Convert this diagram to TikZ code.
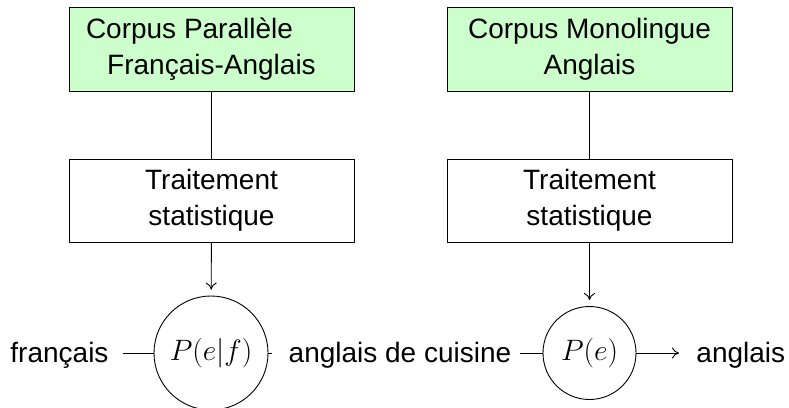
\RequirePackage{fix-cm}
\documentclass[tikz,border=0pt]{standalone}
\usepackage[no-math]{fontspec}
\setmainfont{Liberation Sans}
\usetikzlibrary{arrows.meta}
\begin{document}
\begin{tikzpicture}[x=1pt,y=-1pt,line width=0.9pt,
  every node/.style={font=\fontsize{28}{36}\selectfont},
  corpus/.style={draw, fill=green!20, minimum width=285pt, minimum height=84pt, align=center, inner sep=0pt},
  proc/.style={draw, fill=white, minimum width=285pt, minimum height=83pt, align=center, inner sep=0pt},
  model/.style={draw, circle, inner sep=0pt, font=\fontsize{29.5}{36}\selectfont},
  lbl/.style={inner sep=0pt, text height=22pt, text depth=4pt},
  link/.style={draw},
  tip/.style={-{Computer Modern Rightarrow[length=7pt, width=11pt]}},
  flow/.style={draw, tip, shorten >=6pt}]
\useasboundingbox (0,0) rectangle (789,407);
\node[corpus] (g1) at (211.5,49) {Corpus Parallèle\hspace*{44pt}\\Français-Anglais};
\node[proc] (w1) at (211.5,200.5) {Traitement\\statistique};
\node[corpus] (g2) at (589.5,49) {Corpus Monolingue\\Anglais};
\node[proc] (w2) at (589.5,200.5) {Traitement\\statistique};
\node[model, minimum size=114pt] (c1) at (211,353) {$P(e|f)$};
\node[model, minimum size=93pt] (c2) at (589.5,353) {$P(e)$};
\node[lbl, anchor=west] (fr) at (10,353) {français};
\node[lbl] (adc) at (400,353) {anglais de cuisine};
\node[lbl, anchor=west] (en) at (696,353) {anglais};
\path[link] (g1) -- (w1);
\path[link] (g2) -- (w2);
\path[flow] (w1) -- (c1);
\path[flow] (w2) -- (c2);
\path[link, shorten <=14pt] (fr) -- (c1);
\path[link, shorten >=16pt] (c1) -- (adc);
\path[link, shorten <=8pt] (adc) -- (c2);
\path[link, tip, shorten >=17pt] (c2) -- (en);
\end{tikzpicture}
\end{document}
